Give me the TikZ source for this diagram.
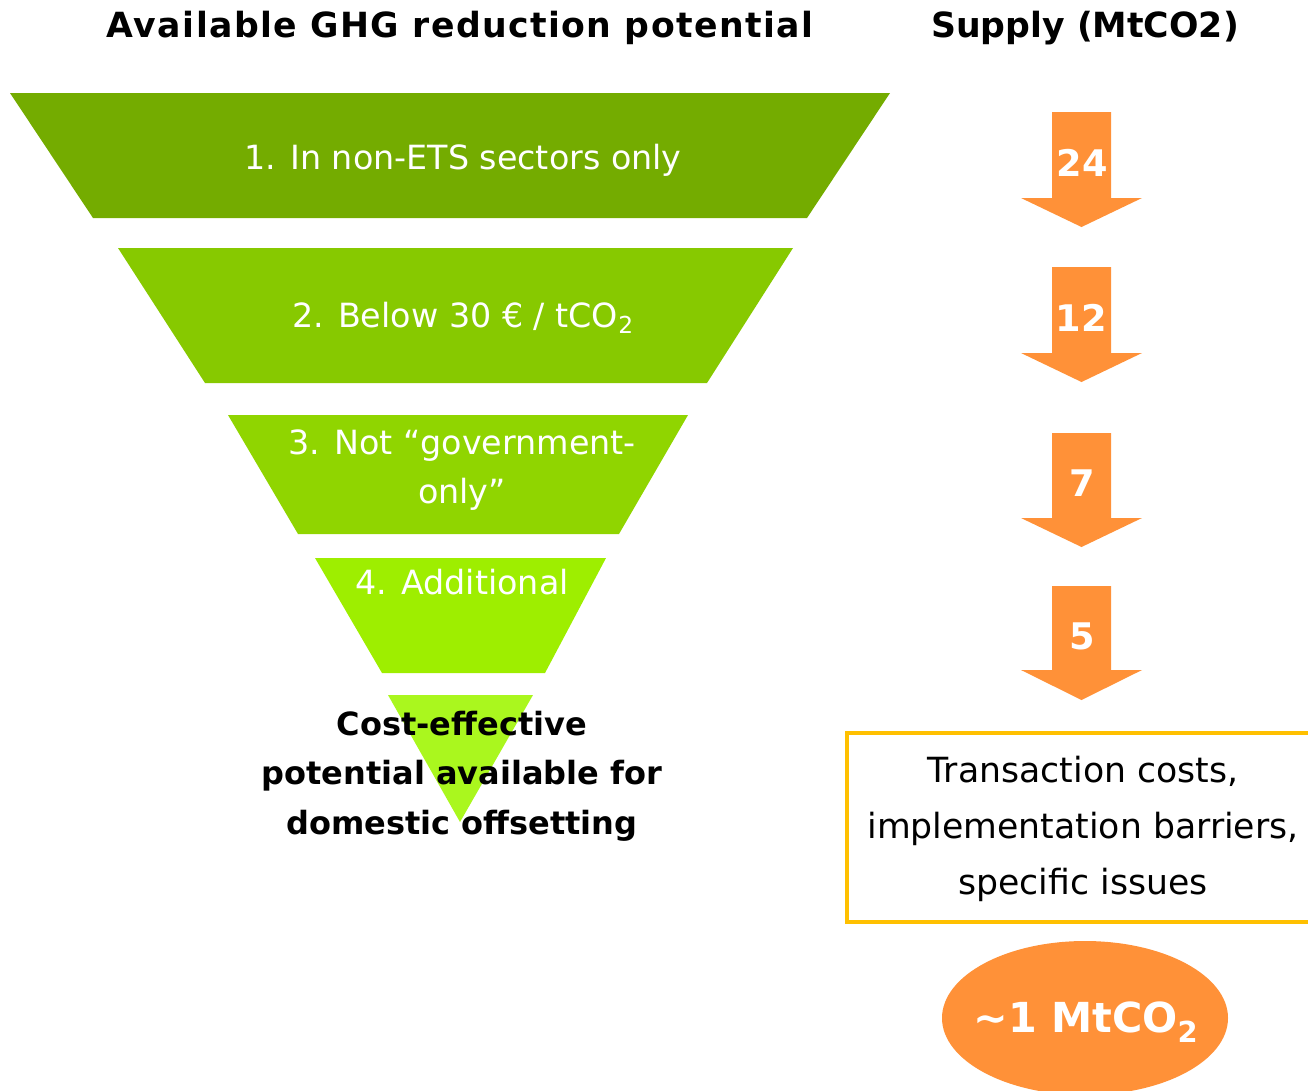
\documentclass[tikz,border=0pt]{standalone}
\usepackage{fontspec}
\setmainfont{DejaVu Sans}
\usetikzlibrary{shapes.geometric}
\definecolor{gA}{HTML}{74AC00}
\definecolor{gB}{HTML}{87C900}
\definecolor{gC}{HTML}{90D500}
\definecolor{gD}{HTML}{9EEE00}
\definecolor{gE}{HTML}{AAF71E}
\definecolor{orng}{HTML}{FF9138}
\definecolor{ambr}{HTML}{FFC000}
\begin{document}
\begin{tikzpicture}[x=0.75pt,y=-0.75pt,
  title/.style={font=\bfseries\fontsize{26pt}{30pt}\selectfont, text=black, inner sep=0pt},
  steptext/.style={font=\fontsize{25pt}{37pt}\selectfont, text=white, align=center, inner sep=0pt},
  numtext/.style={font=\bfseries\fontsize{27.5pt}{30pt}\selectfont, text=white, inner sep=0pt},
  costtext/.style={font=\bfseries\fontsize{24pt}{37pt}\selectfont, text=black, align=center, inner sep=0pt},
  boxtext/.style={font=\fontsize{26pt}{42pt}\selectfont, text=black, align=center, inner sep=0pt},
  arrowfill/.style={fill=orng}]
\useasboundingbox (0,0) rectangle (1308,1090);

% titles
\node[title] (t1) at (460,28) {\addfontfeature{LetterSpace=4}Available GHG reduction potential};
\node[title] (t2) at (1085,28) {Supply (MtCO2)};

% funnel
\fill[gA] (10,93) -- (890,93) -- (807,218) -- (93,218) -- cycle;
\fill[gB] (118,248) -- (793,248) -- (707,383) -- (205,383) -- cycle;
\fill[gC] (228,415) -- (688,415) -- (619,534) -- (298,534) -- cycle;
\fill[gD] (315,558) -- (606,558) -- (545,673) -- (382,673) -- cycle;
\fill[gE] (388,695) -- (533,695) -- (460,822) -- cycle;

\node[steptext] (s1) at (463,160) {1. In non-ETS sectors only};
\node[steptext] (s2) at (463,318) {2. Below 30 € / tCO\textsubscript{2}};
\node[steptext] (s3) at (462,470) {3. Not “government-\\only”};
\node[steptext] (s4) at (462,582) {4. Additional};
\node[costtext] (s5) at (462,776) {Cost-effective\\potential available for\\domestic offsetting};

% supply arrows
\foreach \top/\base/\tip in {112/198/227, 267/353/382, 433/518/547, 586/670/700}{
  \fill[arrowfill] (1052,\top) -- (1111,\top) -- (1111,\base) -- (1142,\base) -- (1081.5,\tip)
     -- (1021,\base) -- (1052,\base) -- cycle;
}
\node[numtext] (n1) at (1082,163) {24};
\node[numtext] (n2) at (1081,318) {12};
\node[numtext] (n3) at (1082,483) {7};
\node[numtext] (n4) at (1082,636) {5};

% barrier box
\draw[ambr, line width=3pt] (1310,733) -- (847,733) -- (847,922) -- (1310,922);
\node[boxtext] (bx) at (1083,829) {Transaction costs,\\implementation barriers,\\specific issues};

% result ellipse
\fill[orng] (1085,1018) ellipse [x radius=143, y radius=77];
\node[font=\bfseries\fontsize{31pt}{35pt}\selectfont, text=white, inner sep=0pt] (res) at (1086,1022) {\textasciitilde1 MtCO\textsubscript{2}};
\end{tikzpicture}
\end{document}
